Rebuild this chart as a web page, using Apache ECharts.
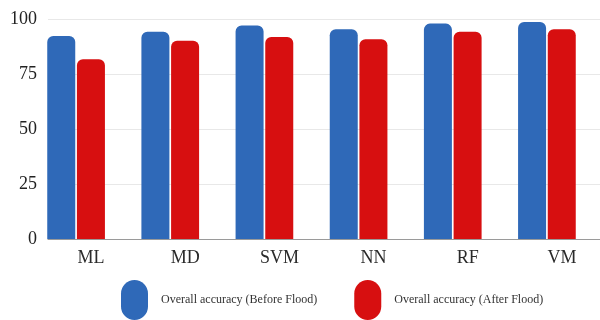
<!DOCTYPE html>
<html><head><meta charset="utf-8">
<script src="https://cdn.jsdelivr.net/npm/echarts@6/dist/echarts.min.js"></script>
<style>html,body{margin:0;padding:0;background:#fff}#c{width:600px;height:320px}</style>
</head><body><div id="c"></div>
<script>
var categories = ['ML', 'MD', 'SVM', 'NN', 'RF', 'VM'];
var beforeFlood = [92.3, 94.2, 97.0, 95.3, 97.9, 98.6];
var afterFlood = [81.7, 90.1, 91.8, 90.8, 94.2, 95.3];
var yTicks = [0, 25, 50, 75, 100];
var seriesNames = ['Overall accuracy (Before Flood)', 'Overall accuracy (After Flood)'];

var FONT = 'Liberation Serif';
var chart = echarts.init(document.getElementById('c'));
var capsule = 'path://M0,13.5 A13.5,13.5 0 0 1 27,13.5 L27,26.5 A13.5,13.5 0 0 1 0,26.5 Z';
chart.setOption({
  animation: false,
  grid: [
    {left: 48, right: 0, top: 19, bottom: 81},
    {left: 29, right: 6, top: 19, bottom: 81}
  ],
  xAxis: [
    {gridIndex: 0, type: 'category', data: categories, axisTick: {show: false}, axisLabel: {show: false},
     axisLine: {lineStyle: {color: '#9a9a9a', width: 1}}},
    {gridIndex: 1, type: 'category', data: categories, axisTick: {show: false}, axisLine: {show: false},
     axisLabel: {margin: 10, fontFamily: FONT, fontSize: 18, color: '#2a2a2a', padding: [0, 0, 0, 30]}}
  ],
  yAxis: [
    {gridIndex: 0, type: 'value', min: yTicks[0], max: yTicks[yTicks.length - 1], interval: 25,
     axisLine: {show: false}, axisTick: {show: false},
     axisLabel: {margin: 11, fontFamily: FONT, fontSize: 18, color: '#222'},
     splitLine: {lineStyle: {color: '#e8e8e8', width: 1}}},
    {gridIndex: 1, type: 'value', min: 0, max: 100, interval: 25, show: false, splitLine: {show: false}}
  ],
  legend: {
    left: 121, top: 280, padding: 0, itemWidth: 27, itemHeight: 40, itemGap: 37,
    icon: capsule,
    textStyle: {fontFamily: FONT, fontSize: 12, color: '#333', padding: [0, 0, 0, 8]},
    data: seriesNames
  },
  series: [
    {name: seriesNames[0], type: 'bar', xAxisIndex: 1, yAxisIndex: 1, data: beforeFlood,
     barWidth: 28, barGap: '6%',
     itemStyle: {color: '#2f69b8', borderRadius: [6, 6, 0, 0]}},
    {name: seriesNames[1], type: 'bar', xAxisIndex: 1, yAxisIndex: 1, data: afterFlood,
     barWidth: 28, barGap: '6%',
     itemStyle: {color: '#d70f10', borderRadius: [6, 6, 0, 0]}}
  ]
});
</script></body></html>
